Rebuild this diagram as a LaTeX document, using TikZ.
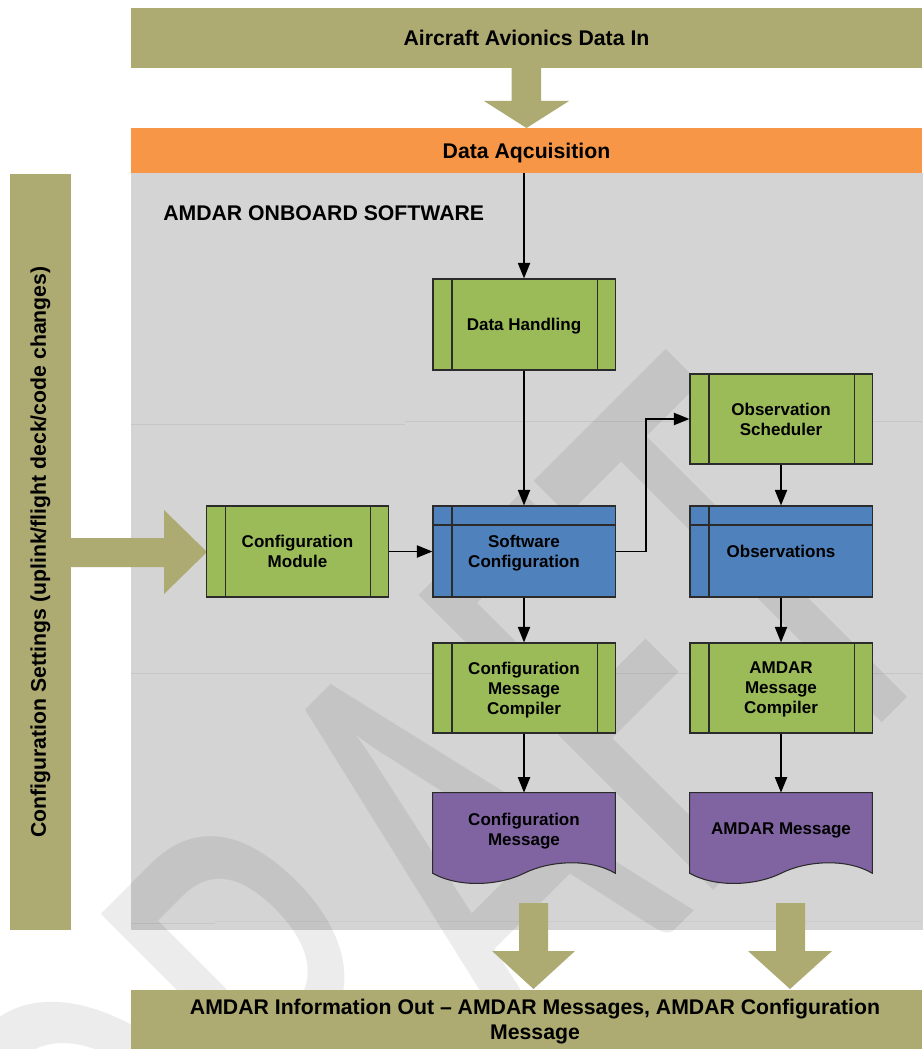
\documentclass[tikz,border=0pt]{standalone}
\usepackage{fontspec}
\usepackage{graphicx}
\setmainfont{Liberation Sans}
\newfontfamily\wmfont{Carlito}
\usetikzlibrary{arrows.meta,calc}
\def\pxu{0.71132pt}
\newcommand\mybarfont{\fontsize{15.1}{17.8}\selectfont\bfseries}
\newcommand\myboxfont{\fontsize{12.1}{14.2}\selectfont\bfseries}
\definecolor{olivebar}{HTML}{ADAA72}
\definecolor{orangebar}{HTML}{F79646}
\definecolor{panelgray}{HTML}{D4D4D4}
\definecolor{faintline}{HTML}{C6C6C6}
\definecolor{boxgreen}{HTML}{9BBB59}
\definecolor{boxblue}{HTML}{4F81BD}
\definecolor{boxpurple}{HTML}{8064A2}
\definecolor{boxedge}{HTML}{2B2B2B}
\begin{document}
\begin{tikzpicture}[x=0.025cm,y=-0.025cm,
  bar/.style={fill=olivebar, inner sep=0, font=\mybarfont, align=center},
  boxbase/.style={draw=boxedge, line width=0.75pt, minimum width=182*\pxu,
     minimum height=91*\pxu, inner sep=0, align=center, font=\myboxfont,
     text depth=0pt},
  pbox/.style={boxbase, fill=boxgreen, path picture={
     \draw[boxedge, line width=0.75pt]
       ([xshift=19*\pxu]path picture bounding box.north west) --
       ([xshift=19*\pxu]path picture bounding box.south west);
     \draw[boxedge, line width=0.75pt]
       ([xshift=-18*\pxu]path picture bounding box.north east) --
       ([xshift=-18*\pxu]path picture bounding box.south east);}},
  sbox/.style={boxbase, fill=boxblue, path picture={
     \draw[boxedge, line width=0.75pt]
       ([xshift=19*\pxu]path picture bounding box.north west) --
       ([xshift=19*\pxu]path picture bounding box.south west);
     \draw[boxedge, line width=0.75pt]
       ([yshift=-19*\pxu]path picture bounding box.north west) --
       ([yshift=-19*\pxu]path picture bounding box.north east);}},
  docnode/.style={minimum width=182*\pxu, minimum height=80*\pxu, inner sep=0},
  docdraw/.style={draw=boxedge, line width=0.75pt, fill=boxpurple},
  boxtext/.style={inner sep=0, align=center, font=\myboxfont, text depth=0pt},
  conn/.style={draw=black, line width=1.4pt,
     -{Triangle[length=11pt,width=8.5pt]}},
  blockarrow/.style={fill=olivebar},
  faint/.style={draw=faintline, line width=0.7pt}
]
\useasboundingbox (0,0) rectangle (922,1049);
\fill[white] (0,0) rectangle (922,1049);

% grey panel
\node[fill=panelgray, inner sep=0, minimum width=791*\pxu, minimum height=757*\pxu,
      anchor=north west] (panel) at (131,173) {};
\draw[faint] (131,424) -- (405,424);
\draw[faint] (405,421) -- (922,421);
\draw[faint] (131,673) -- (922,673);
\draw[faint, draw=black!22] (131,923) -- (215,923);
\draw[faint, draw=black!20] (215,921) -- (922,921);

% watermark
\node[font=\wmfont\fontsize{462}{462}\selectfont, rotate=45, text=black,
      text opacity=0.075, inner sep=0] (wm) at (435,875)
      {\scalebox{0.62}[1]{DRAFT}};

% bars
\node[bar, minimum width=791*\pxu, minimum height=60*\pxu] (avin) at (526.5,38)
  {Aircraft Avionics Data In};
\node[bar, fill=orangebar, minimum width=791*\pxu, minimum height=45*\pxu,
      text depth=0pt] (daq) at (526.5,150.5) {Data Aqcuisition};
\node[bar, rotate=90, minimum width=756*\pxu, minimum height=61*\pxu] (cfgset)
  at (40.5,552) {Configuration Settings (uplink/flight deck/code changes)};
\node[bar, minimum width=791*\pxu, minimum height=59*\pxu] (aout) at (526.5,1019.5) {};
\node[inner sep=0, font=\mybarfont, align=center] (aouttxt) at (535,1022)
  {AMDAR Information Out -- AMDAR Messages, AMDAR Configuration\\Message};

\node[anchor=west, inner sep=0, font=\mybarfont] (title) at (163,213)
  {AMDAR ONBOARD SOFTWARE};

% block arrows
\fill[blockarrow] (511.5,68) -- (541,68) -- (541,101) -- (569,101) -- (526.5,128)
  -- (484,101) -- (511.5,101) -- cycle;
\fill[blockarrow] (71,538) -- (164,538) -- (164,510) -- (207,552) -- (164,594)
  -- (164,567) -- (71,567) -- cycle;
\fill[blockarrow] (519,903) -- (548,903) -- (548,951) -- (575,951) -- (533.5,989)
  -- (492,951) -- (519,951) -- cycle;
\fill[blockarrow] (776,903) -- (805,903) -- (805,951) -- (832,951) -- (790,989)
  -- (748,951) -- (776,951) -- cycle;

% process boxes
\node[pbox] (dh) at (524,324.5) {Data Handling};
\node[pbox] (cm) at (297.5,551.5) {Configuration\\Module};
\node[sbox] (sc) at (524,551.5) {Software\\Configuration};
\node[pbox, minimum height=90*\pxu] (os) at (781,419) {Observation\\Scheduler};
\node[sbox] (obs) at (781,551.5) {Observations};
\node[pbox, minimum height=90*\pxu] (cmc) at (524,688) {Configuration\\Message\\Compiler};
\node[pbox, minimum height=90*\pxu] (amc) at (781,688) {AMDAR\\Message\\Compiler};

% documents
\node[docnode] (cmsg) at (524,833) {};
\draw[docdraw] (cmsg.north west) -- (cmsg.north east) -- (cmsg.south east)
  .. controls +(-25,-15) and +(26,-13) .. (cmsg.south)
  .. controls +(-24,12) and +(27,15) .. (cmsg.south west) -- cycle;
\node[boxtext] (cmsgt) at (524,829) {Configuration\\Message};
\node[docnode] (amsg) at (781,833) {};
\draw[docdraw] (amsg.north west) -- (amsg.north east) -- (amsg.south east)
  .. controls +(-25,-15) and +(26,-13) .. (amsg.south)
  .. controls +(-24,12) and +(27,15) .. (amsg.south west) -- cycle;
\node[boxtext] (amsgt) at (781,829) {AMDAR Message};

% connectors
\draw[conn] (daq.south -| dh.north) -- (dh.north);
\draw[conn] (dh) -- (sc);
\draw[conn] (cm) -- (sc);
\draw[conn] (sc.east) -- ++(30,0) |- (os.west);
\draw[conn] (os) -- (obs);
\draw[conn] (sc) -- (cmc);
\draw[conn] (obs) -- (amc);
\draw[conn] (cmc) -- (cmsg);
\draw[conn] (amc) -- (amsg);
\end{tikzpicture}
\end{document}
